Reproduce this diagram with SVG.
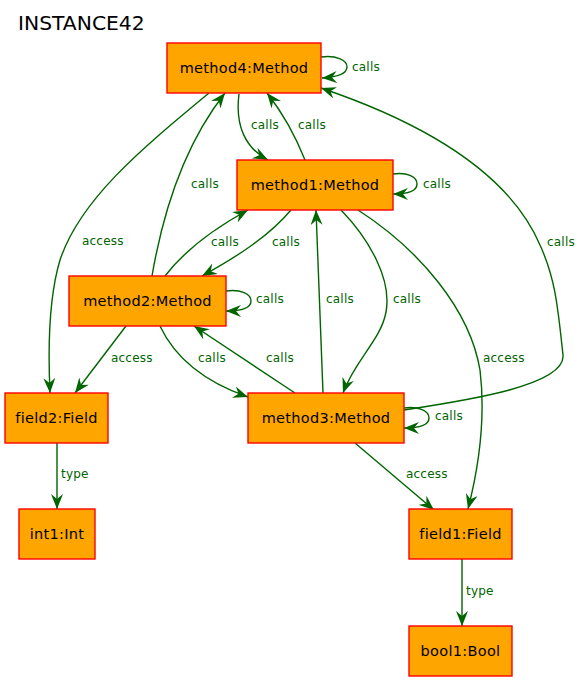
<svg xmlns="http://www.w3.org/2000/svg" width="586" height="682" viewBox="0 0 586 682">
<style>
.node rect{fill:#FFA500;stroke:#FF0000;stroke-width:1.4}
.node text{font-family:"DejaVu Sans",sans-serif;font-size:14.5px;letter-spacing:0.3px;fill:#000;text-anchor:middle}
.edge path{fill:none;stroke:#006400;stroke-width:1.4;marker-end:url(#vee)}
.lbl{font-family:"DejaVu Sans",sans-serif;font-size:12px;letter-spacing:0.2px;fill:#006400}
.title{font-family:"DejaVu Sans",sans-serif;font-size:20.3px;fill:#000}
</style>
<defs>
<marker id="vee" markerUnits="userSpaceOnUse" viewBox="0 0 15 12" refX="15" refY="6" markerWidth="15" markerHeight="12" orient="auto">
<path d="M0,0 L15,6 L0,12 L5,6 z" fill="#006400"/>
</marker>
</defs>
<rect width="586" height="682" fill="#fff"/>
<text class="title" x="18" y="30">INSTANCE42</text>
<g id="connectors" class="edge">
<path d="M321,57 C336,55 347,60 347,67 C347,74 338,77 322,78"/>
<path d="M209,93 C140,150 80,200 60,260 C48,300 48,350 50,393"/>
<path d="M152,276 C165,200 188,140 225,93"/>
<path d="M239,94 C235,125 245,148 268,160"/>
<path d="M305,160 C295,135 282,112 267,93"/>
<path d="M393,174 C408,172 417,177 417,184 C417,191 408,194 393,194"/>
<path d="M404,410 C470,400 566,385 563,355 C558,310 556,280 540,245 C510,175 430,125 321,88"/>
<path d="M291,210 C270,235 240,255 202,276"/>
<path d="M165,276 C185,250 215,228 248,210"/>
<path d="M323,393 L316,210"/>
<path d="M341,210 C370,240 392,280 386,312 C381,340 355,360 343,393"/>
<path d="M358,210 C420,250 470,310 480,370 C486,420 478,470 468,509"/>
<path d="M226,291 C241,289 251,294 251,301 C251,308 242,311 226,311"/>
<path d="M126,326 L75,393"/>
<path d="M160,326 C175,358 205,382 248,397"/>
<path d="M295,393 L194,326"/>
<path d="M404,408 C419,406 429,411 429,418 C429,425 420,428 404,428"/>
<path d="M355,443 L434,510"/>
<path d="M57,443 L57,509"/>
<path d="M462,559 L462,626"/>
<text class="lbl" x="352" y="71">calls</text>
<text class="lbl" x="82" y="245">access</text>
<text class="lbl" x="191" y="188">calls</text>
<text class="lbl" x="251" y="129">calls</text>
<text class="lbl" x="298" y="129">calls</text>
<text class="lbl" x="423" y="188">calls</text>
<text class="lbl" x="547" y="246">calls</text>
<text class="lbl" x="272" y="246">calls</text>
<text class="lbl" x="211" y="246">calls</text>
<text class="lbl" x="326" y="303">calls</text>
<text class="lbl" x="393" y="303">calls</text>
<text class="lbl" x="483" y="362">access</text>
<text class="lbl" x="256" y="303">calls</text>
<text class="lbl" x="111" y="362">access</text>
<text class="lbl" x="198" y="362">calls</text>
<text class="lbl" x="266" y="362">calls</text>
<text class="lbl" x="435" y="420">calls</text>
<text class="lbl" x="406" y="478">access</text>
<text class="lbl" x="61" y="478">type</text>
<text class="lbl" x="466" y="595">type</text>
</g>
<g id="method4" class="node"><rect x="167" y="43" width="154" height="50"/><text x="244" y="73">method4:Method</text></g>
<g id="method1" class="node"><rect x="237" y="160" width="156" height="50"/><text x="315" y="190">method1:Method</text></g>
<g id="method2" class="node"><rect x="69" y="276" width="157" height="50"/><text x="147.5" y="306">method2:Method</text></g>
<g id="field2" class="node"><rect x="5" y="393" width="103" height="50"/><text x="56.5" y="423">field2:Field</text></g>
<g id="method3" class="node"><rect x="248" y="393" width="156" height="50"/><text x="326" y="423">method3:Method</text></g>
<g id="int1" class="node"><rect x="19" y="509" width="76" height="50"/><text x="57" y="539">int1:Int</text></g>
<g id="field1" class="node"><rect x="409" y="509" width="103" height="50"/><text x="460.5" y="539">field1:Field</text></g>
<g id="bool1" class="node"><rect x="409" y="626" width="103" height="50"/><text x="460.5" y="656">bool1:Bool</text></g>
</svg>
